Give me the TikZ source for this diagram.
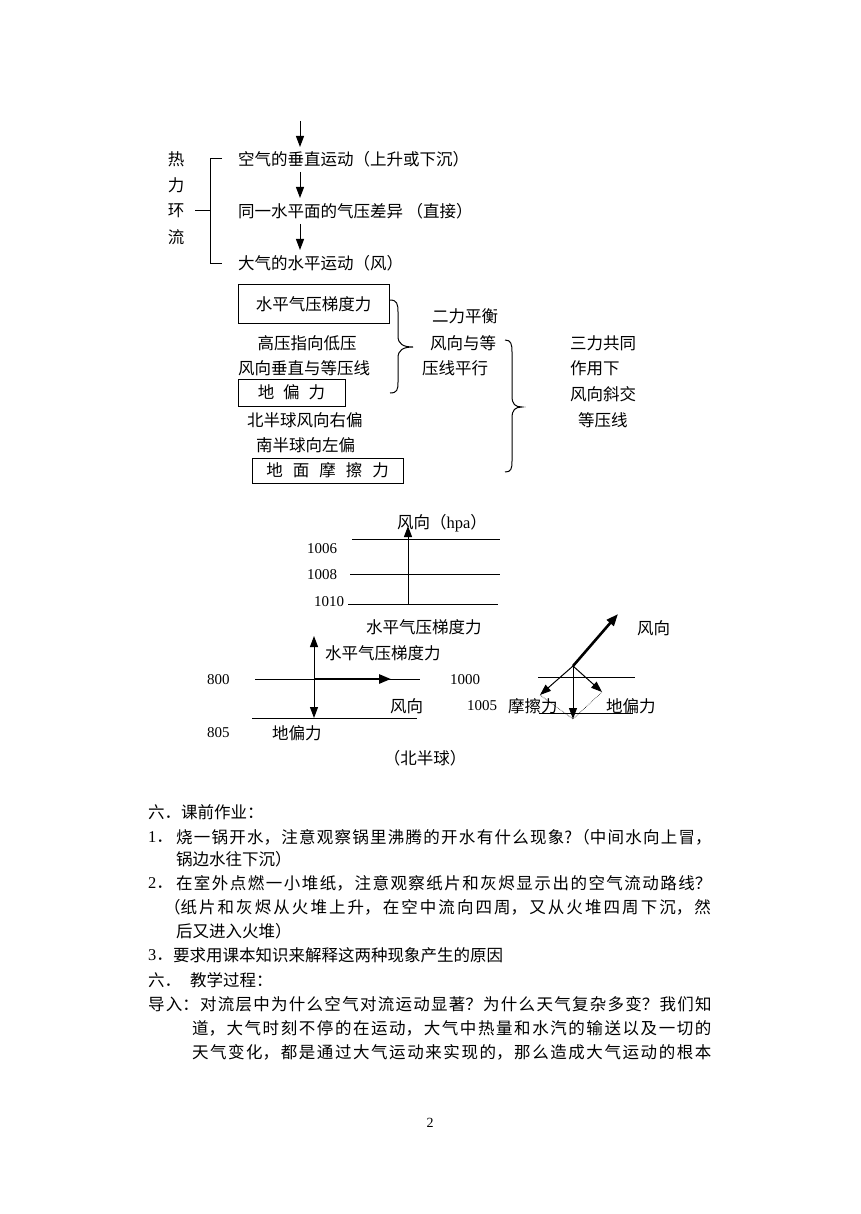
\documentclass[tikz,border=0pt]{standalone}
\usepackage{fontspec}
\setmainfont{Noto Sans CJK SC}
\newfontfamily\tm{Liberation Serif}
\usetikzlibrary{arrows.meta}
\XeTeXlinebreaklocale "zh"
\XeTeXlinebreakskip=0pt plus 1fil
\begin{document}
\begin{tikzpicture}[x=1pt,y=-1pt,
  every node/.style={inner sep=0pt,outer sep=0pt,font=\fontsize{16.5}{20}\selectfont},
  txt/.style={anchor=west},
  num/.style={anchor=west,font=\fontsize{15}{18}\selectfont\tm},
  arr/.style={line width=1pt,-{Triangle[length=11pt,width=8pt]}},
  sarr/.style={line width=1pt,-{Triangle[length=10pt,width=7pt]}},
  tarr/.style={line width=2.6pt,-{Triangle[length=12pt,width=9pt]}},
  ln/.style={line width=1pt},
  box/.style={draw,line width=1pt},
  para/.style={anchor=west,text width=#1,align=justify}]
\fill[white] (0,0) rectangle (860,1214);
\useasboundingbox (0,0) rectangle (860,1214);

% ---- thermal circulation chain
\coordinate (a0s) at (300,121); \coordinate (a0e) at (300,147);
\node[txt] (t1) at (238,159) {空气的垂直运动（上升或下沉）};
\coordinate (a1s) at (300,172); \coordinate (a1e) at (300,198);
\node[txt] (t2) at (238,211) {同一水平面的气压差异 （直接）};
\coordinate (a2s) at (300,224); \coordinate (a2e) at (300,250);
\node[txt] (t3) at (238,263) {大气的水平运动（风）};
\draw[arr] (a0s) -- (a0e);
\draw[arr] (a1s) -- (a1e);
\draw[arr] (a2s) -- (a2e);
\node (r1) at (176,159) {热};
\node (r2) at (176,185) {力};
\node (r3) at (176,211) {环};
\node (r4) at (176,237) {流};
\coordinate (bk1) at (222,159); \coordinate (bk2) at (210,159);
\coordinate (bk3) at (210,264); \coordinate (bk4) at (222,264);
\coordinate (bk5) at (195,211); \coordinate (bk6) at (210,211);
\draw[ln] (bk1) -- (bk2) -- (bk3) -- (bk4);
\draw[ln] (bk5) -- (bk6);

% ---- forces
\node[box,minimum width=151,minimum height=38] (b1) at (313.5,304) {水平气压梯度力};
\node (m1) at (307,343) {高压指向低压};
\node[txt] (m2) at (238,368) {风向垂直与等压线};
\node[box,minimum width=107,minimum height=27] (b2) at (291.5,392.5) {地\hspace{9pt}偏\hspace{9pt}力};
\node[txt] (m3) at (247,420) {北半球风向右偏};
\node[txt] (m4) at (256,445) {南半球向左偏};
\node[box,minimum width=151,minimum height=25] (b3) at (327.5,470.5) {地\hspace{10pt}面\hspace{10pt}摩\hspace{10pt}擦\hspace{10pt}力};

\draw[ln] (390,300) .. controls (397,300) and (398,304) .. (398,312) -- (398,336)
  .. controls (398,344) and (403,347) .. (413,347)
  .. controls (403,347) and (398,350) .. (398,358) -- (398,382)
  .. controls (398,390) and (397,393) .. (390,393);
\draw[ln] (505,340) .. controls (511,340) and (512,344) .. (512,352) -- (512,396)
  .. controls (512,404) and (515,407) .. (522,407)
  .. controls (515,407) and (512,410) .. (512,418) -- (512,461)
  .. controls (512,469) and (511,472) .. (505,472);

\node[txt] (e1) at (432,316) {二力平衡};
\node[txt] (e2) at (430,343) {风向与等};
\node[txt] (e3) at (422,368) {压线平行};
\node[txt] (s1) at (570,343) {三力共同};
\node[txt] (s2) at (570,368) {作用下};
\node[txt] (s3) at (570,394) {风向斜交};
\node[txt] (s4) at (578,420) {等压线};

% ---- isobar diagram 1
\coordinate (i1a) at (352,539); \coordinate (i1b) at (500,539);
\coordinate (i2a) at (350,574); \coordinate (i2b) at (500,574);
\coordinate (i3a) at (348,604); \coordinate (i3b) at (498,604);
\draw[ln] (i1a) -- (i1b);
\draw[ln] (i2a) -- (i2b);
\draw[ln] (i3a) -- (i3b);
\node[num] (n1) at (307,549) {1006};
\node[num] (n2) at (307,575) {1008};
\node[num] (n3) at (314,602) {1010};
\coordinate (w1s) at (408,604); \coordinate (w1e) at (408,526);
\draw[arr] (w1s) -- (w1e);
\node[txt] (h1) at (397,523) {风向（{\tm hpa}）};
\node[txt] (h2) at (366,627) {水平气压梯度力};

% ---- diagram 2 (left)
\coordinate (j1a) at (255,679); \coordinate (j1b) at (420,679);
\coordinate (j2a) at (252,718); \coordinate (j2b) at (417,718);
\draw[ln] (j1a) -- (j1b);
\draw[ln] (j2a) -- (j2b);
\coordinate (o1) at (314,679);
\coordinate (o1r) at (391,679);
\coordinate (o1u) at (314,636);
\coordinate (o1d) at (314,718);
\draw[tarr] (o1) -- (o1r);
\draw[arr] (o1) -- (o1u);
\draw[arr] (o1) -- (o1d);
\node[num] (k1) at (207,680) {800};
\node[num] (k2) at (207,733) {805};
\node[txt] (k3) at (325,653) {水平气压梯度力};
\node[txt] (k4) at (390,706) {风向};
\node[txt] (k5) at (272,733) {地偏力};
\node (k6) at (425,758) {（北半球）};

% ---- diagram 3 (right)
\coordinate (q1a) at (538,677); \coordinate (q1b) at (635,677);
\coordinate (q2a) at (539,713); \coordinate (q2b) at (633,713);
\draw[ln] (q1a) -- (q1b);
\draw[ln] (q2a) -- (q2b);
\coordinate (o2) at (573,666);
\coordinate (o2w) at (618,614);
\coordinate (o2d) at (573,719);
\coordinate (o2f) at (540,695);
\coordinate (o2c) at (602,692);
\draw[tarr] (o2) -- (o2w);
\draw[arr] (o2) -- (o2d);
\draw[arr] (o2) -- (o2f);
\draw[arr] (o2) -- (o2c);
\draw[line width=0.6pt,densely dotted] (o2f) -- (o2d) -- (o2c);
\node[num] (p1) at (450,680) {1000};
\node[num] (p2) at (467,706) {1005};
\node[txt] (p3) at (508,706) {摩擦力};
\node[txt] (p4) at (606,706) {地偏力};
\node[txt] (p5) at (637,628) {风向};

% ---- text
\node[txt] (x0) at (148,812) {六．课前作业：};
\node[txt] (x1n) at (148,837) {{\tm 1}．};
\node[para=537] (x1) at (176,837) {\parfillskip=0pt 烧一锅开水，注意观察锅里沸腾的开水有什么现象?（中间水向上冒，};
\node[txt] (x1b) at (176,859) {锅边水往下沉）};
\node[txt] (x2n) at (148,883) {{\tm 2}．};
\node[para=537] (x2) at (176,883) {\parfillskip=0pt 在室外点燃一小堆纸，注意观察纸片和灰烬显示出的空气流动路线？};
\node[para=549] (x2b) at (164,907) {\parfillskip=0pt （纸片和灰烬从火堆上升，在空中流向四周，又从火堆四周下沉，然};
\node[txt] (x2c) at (176,931) {后又进入火堆）};
\node[txt] (x3n) at (148,955) {{\tm 3}．};
\node[txt] (x3) at (173,955) {要求用课本知识来解释这两种现象产生的原因};
\node[txt] (x4n) at (148,980) {六．};
\node[txt] (x4) at (190,980) {教学过程：};
\node[para=565] (x5) at (148,1004) {\parfillskip=0pt 导入：对流层中为什么空气对流运动显著？为什么天气复杂多变？我们知};
\node[para=521] (x6) at (192,1028) {\parfillskip=0pt 道，大气时刻不停的在运动，大气中热量和水汽的输送以及一切的};
\node[para=521] (x7) at (192,1052) {\parfillskip=0pt 天气变化，都是通过大气运动来实现的，那么造成大气运动的根本};
\node[font=\fontsize{14}{16}\selectfont\tm] (pg) at (430,1123) {2};
\end{tikzpicture}
\end{document}
